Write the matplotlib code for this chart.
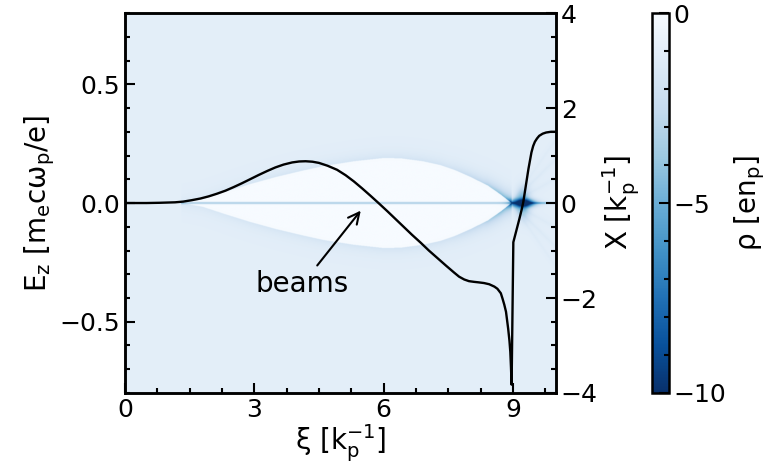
import numpy as np
import matplotlib
matplotlib.use("Agg")
import matplotlib.pyplot as plt
from matplotlib.ticker import MultipleLocator

# ---- data ----
xi_line = [0.0, 0.5, 0.8, 1.16, 1.35, 1.55, 1.75, 1.94, 2.13, 2.33, 2.52, 2.71, 2.90, 3.10,
           3.30, 3.49, 3.68, 3.88, 4.04, 4.19, 4.35, 4.50, 4.70, 4.92, 5.12, 5.31, 5.50,
           5.70, 5.90, 6.09, 6.28, 6.47, 6.66, 6.86, 7.05, 7.25, 7.45, 7.63, 7.75, 7.87,
           7.98, 8.10, 8.20, 8.33, 8.45, 8.57, 8.64, 8.72, 8.76, 8.80, 8.84, 8.89, 8.92,
           8.94, 8.955, 8.97, 9.01, 9.07, 9.15, 9.20, 9.24, 9.30, 9.36, 9.43, 9.47, 9.51,
           9.56, 9.61, 9.69, 9.77, 9.88, 10.0]
ez_line = [0.0, 0.0, 0.001, 0.003, 0.006, 0.012, 0.019, 0.028, 0.039, 0.052, 0.067, 0.083,
           0.100, 0.118, 0.135, 0.150, 0.162, 0.171, 0.175, 0.176, 0.174, 0.169, 0.157,
           0.140, 0.117, 0.091, 0.062, 0.030, -0.003, -0.035, -0.068, -0.101, -0.134,
           -0.167, -0.200, -0.232, -0.264, -0.292, -0.310, -0.322, -0.329, -0.332, -0.334,
           -0.337, -0.342, -0.352, -0.361, -0.380, -0.403, -0.428, -0.458, -0.529, -0.580,
           -0.627, -0.690, -0.765, -0.165, -0.123, -0.067, -0.030, 0.003, 0.073, 0.143,
           0.213, 0.240, 0.258, 0.272, 0.283, 0.292, 0.297, 0.300, 0.300]

# bubble boundary radius (in X units) vs xi
xi_bub = [1.3, 1.8, 2.3, 2.9, 3.5, 4.1, 4.6, 5.3, 6.0, 6.4, 6.9, 7.3, 7.65, 8.0, 8.4, 8.7, 8.95]
r_bub = [0.0, 0.08, 0.23, 0.40, 0.55, 0.68, 0.78, 0.88, 0.95, 0.94, 0.88, 0.80, 0.69, 0.55,
         0.37, 0.18, 0.0]
# sheath darkness along the bubble
xi_sheath = [1.3, 3.0, 6.0, 7.5, 8.3, 8.8, 9.0]
a_sheath = [0.5, 0.7, 0.8, 1.0, 2.0, 4.0, 6.0]

spike_xi, spike_x, spike_amp = 9.22, 0.0, 10.0
beam_start, beam_end = 1.3, 10.0

cb_ticks = [0, -5, -10]

# ---- density field ----
nxi, nx = 1400, 1200
g_xi = np.linspace(0, 10, nxi)
g_x = np.linspace(-4, 4, nx)
XI, XX = np.meshgrid(g_xi, g_x)
R = np.interp(g_xi, xi_bub, r_bub, left=0, right=0)[None, :]
A = np.interp(g_xi, xi_sheath, a_sheath, left=0, right=6)[None, :]
inbub = (XI > xi_bub[0]) & (XI < xi_bub[-1])
rho = -np.ones_like(XI)
d = np.abs(XX) - R
out = d >= 0
rho = np.where(out & inbub, -1 - A * np.exp(-d / 0.12), rho)
rho = np.where((~out) & inbub, -0.03 - 0.6 * np.exp(d / 0.02) * (A / 6), rho)
# faint rays after the spike
post = XI > 8.95
for k, amp in [(0.5, 0.6), (0.9, 0.7), (1.3, 0.5)]:
    rr = np.abs(np.abs(XX) - k * (XI - 8.95))
    rho = rho - np.where(post, amp * np.exp(-rr / 0.06) * np.exp(-(XI - 8.95) / 1.2), 0)
# spike
rho = rho - spike_amp * np.exp(-((XI - spike_xi) / 0.26) ** 2 - ((XX - spike_x) / 0.08) ** 2)
rho = rho - 4 * np.exp(-((XI - spike_xi) / 0.15) ** 2 - ((XX - spike_x) / 0.28) ** 2)
# beam line
beam = (XI > beam_start) & (XI < beam_end)
rho = rho - np.where(beam, 3.6 * np.exp(-(XX / 0.022) ** 2), 0)
rho = np.clip(rho, -10, 0)

# ---- figure ----
plt.rcParams['font.size'] = 18
fig = plt.figure(figsize=(7.65, 4.67), dpi=100)
ax = fig.add_axes([0.1634, 0.1585, 0.5634, 0.8135])
im = ax.imshow(rho, extent=[0, 10, -0.8, 0.8], origin='lower', aspect='auto',
               cmap='Blues_r', vmin=-10, vmax=0, interpolation='bilinear')
ax.plot(xi_line, ez_line, color='black', lw=1.7, solid_joinstyle='round')
ax.set_xlim(0, 10)
ax.set_ylim(-0.8, 0.8)
ax.set_xticks([0, 3, 6, 9])
ax.set_yticks([-0.5, 0.0, 0.5])
ax.xaxis.set_minor_locator(MultipleLocator(0.75))
ax.yaxis.set_minor_locator(MultipleLocator(0.1))
ax.tick_params(which='both', direction='in', top=False, right=False, width=1.5)
ax.tick_params(which='major', length=7)
ax.tick_params(which='minor', length=3.5)
for s in ax.spines.values():
    s.set_linewidth(1.8)
ax.set_xlabel(r'ξ [k$_{\rm p}^{-1}$]', fontsize=20, labelpad=0)
ax.set_ylabel(r'E$_{\rm z}$ [m$_{\rm e}$cω$_{\rm p}$/e]', fontsize=20, labelpad=2)

ax.annotate('', xy=(5.47, -0.032), xytext=(4.46, -0.263),
            arrowprops=dict(arrowstyle='->', color='black', lw=1.5,
                            shrinkA=0, shrinkB=0, mutation_scale=20))
ax.text(4.11, -0.374, 'beams', ha='center', va='baseline', fontsize=20)

ax2 = ax.twinx()
ax2.set_ylim(-4, 4)
ax2.set_yticks([-4, -2, 0, 2, 4])
ax2.yaxis.set_minor_locator(MultipleLocator(0.5))
ax2.tick_params(which='both', direction='in', width=1.5)
ax2.tick_params(which='major', length=7)
ax2.tick_params(which='minor', length=3.5)
for s in ax2.spines.values():
    s.set_linewidth(1.8)
ax2.set_ylabel(r'X [k$_{\rm p}^{-1}$]', fontsize=20, labelpad=2)

cax = fig.add_axes([0.852, 0.1585, 0.0222, 0.8135])
cb = fig.colorbar(im, cax=cax)
cb.set_ticks(cb_ticks)
cb.ax.yaxis.set_minor_locator(MultipleLocator(1))
cb.ax.tick_params(which='both', direction='in', width=1.5)
cb.ax.tick_params(which='major', length=7)
cb.ax.tick_params(which='minor', length=3.5)
cb.outline.set_linewidth(1.8)
cb.set_label(r'ρ [en$_{\rm p}$]', fontsize=20, labelpad=4)

fig.savefig('out.png', dpi=100)
